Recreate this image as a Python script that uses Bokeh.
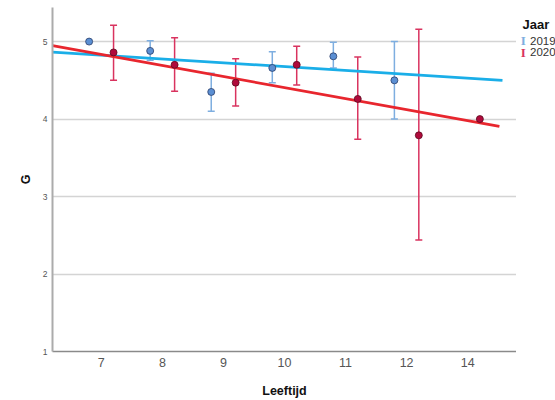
from bokeh.plotting import figure
from bokeh.layouts import row
from bokeh.models import Range1d, FixedTicker, Whisker, TeeHead, ColumnDataSource
from bokeh.core.properties import value
from bokeh.embed import file_html
from bokeh.resources import INLINE

# ---- data ----
ages = ["7", "8", "9", "10", "11", "12", "14"]
years = ["2019", "2020"]
legend_title = "Jaar"

mean_2019 = [5.00, 4.88, 4.35, 4.66, 4.81, 4.50, None]
lower_2019 = [None, 4.76, 4.10, 4.47, 4.66, 4.00, None]
upper_2019 = [None, 5.01, 4.59, 4.87, 4.99, 5.00, None]

mean_2020 = [4.86, 4.70, 4.47, 4.70, 4.26, 3.79, 4.00]
lower_2020 = [4.50, 4.36, 4.17, 4.44, 3.74, 2.44, None]
upper_2020 = [5.21, 5.05, 4.78, 4.94, 4.80, 5.16, None]

# fitted regression lines (start / end, in category-position units)
fit_x_2019 = [-0.8, 6.57]
fit_y_2019 = [4.865, 4.50]
fit_x_2020 = [-0.8, 6.52]
fit_y_2020 = [4.948, 3.905]

y_ticks = [1, 2, 3, 4, 5]

# ---- styling ----
FONT = "Liberation Sans"
C19_PT, C19_OUT, C19_ERR, C19_LINE = "#5b8fd3", "#2b3f6b", "#7eaee0", "#1aaee8"
C20_PT, C20_OUT, C20_ERR, C20_LINE = "#b00a3c", "#5a0a1e", "#d9335f", "#e8262e"
OFFSETS = {"2019": -0.2, "2020": 0.2}

p = figure(width=516, height=400, x_range=Range1d(-0.8, 6.8), y_range=Range1d(1, 5.44),
           output_backend="svg", toolbar_location=None,
           min_border_left=52, min_border_right=0, min_border_top=7, min_border_bottom=48)
p.outline_line_color = None
p.background_fill_color = "white"
p.border_fill_color = "white"

p.xgrid.visible = False
p.ygrid.ticker = FixedTicker(ticks=y_ticks)
p.ygrid.grid_line_color = "#d4d4d4"
p.ygrid.grid_line_width = 1.3

p.xaxis.ticker = FixedTicker(ticks=list(range(len(ages))))
p.xaxis.major_label_overrides = {i: a for i, a in enumerate(ages)}
p.yaxis.ticker = FixedTicker(ticks=y_ticks)
for ax in (p.xaxis[0], p.yaxis[0]):
    ax.major_tick_out = 0
    ax.major_tick_in = 0
    ax.minor_tick_out = 0
    ax.minor_tick_in = 0
    ax.major_label_text_font = FONT
    ax.major_label_text_color = "#555555"
    ax.axis_label_text_font = FONT
    ax.axis_label_text_font_style = "bold"
    ax.axis_label_text_color = "#111111"
    ax.axis_label_text_font_size = "12.5px"

p.xaxis.major_label_text_font_size = "12.5px"
p.yaxis.major_label_text_font_size = "8.5px"
p.xaxis.major_label_standoff = 6
p.yaxis.major_label_standoff = 5
p.xaxis.axis_label = "Leeftijd"
p.yaxis.axis_label = "G"
p.xaxis.axis_label_standoff = 14
p.yaxis.axis_label_standoff = 7
p.yaxis.axis_line_color = "#ababab"
p.yaxis.axis_line_width = 2
p.xaxis.axis_line_color = "#8a8a8a"
p.xaxis.axis_line_width = 1.5


def series(means, lows, ups, year):
    off = OFFSETS[year]
    px, py = [], []
    ex, el, eu = [], [], []
    for i, (m, lo, up) in enumerate(zip(means, lows, ups)):
        if m is not None:
            px.append(i + off)
            py.append(m)
        if lo is not None and up is not None:
            ex.append(i + off)
            el.append(lo)
            eu.append(up)
    return (ColumnDataSource(dict(x=px, y=py)),
            ColumnDataSource(dict(x=ex, lower=el, upper=eu)))


pts19, err19 = series(mean_2019, lower_2019, upper_2019, "2019")
pts20, err20 = series(mean_2020, lower_2020, upper_2020, "2020")

for src, col in ((err19, C19_ERR), (err20, C20_ERR)):
    w = Whisker(base="x", lower="lower", upper="upper", source=src, dimension="height",
                line_color=col, line_width=1.5,
                lower_head=TeeHead(size=7, line_color=col, line_width=1.5),
                upper_head=TeeHead(size=7, line_color=col, line_width=1.5))
    p.add_layout(w)

p.line(fit_x_2019, fit_y_2019, line_color=C19_LINE, line_width=2.8)
p.line(fit_x_2020, fit_y_2020, line_color=C20_LINE, line_width=2.8)

p.scatter("x", "y", source=pts19, size=7, fill_color=C19_PT, line_color=C19_OUT, line_width=0.8)
p.scatter("x", "y", source=pts20, size=7, fill_color=C20_PT, line_color=C20_OUT, line_width=0.8)

# ---- legend panel on the right (pixel coordinates of the panel) ----
lg = figure(width=39, height=400, x_range=Range1d(0, 39), y_range=Range1d(400, 0),
            output_backend="svg", toolbar_location=None,
            min_border_left=0, min_border_right=0, min_border_top=0, min_border_bottom=0)
lg.axis.visible = False
lg.grid.visible = False
lg.outline_line_color = None
lg.background_fill_color = "white"
lg.border_fill_color = "white"

lg.text(x=[6], y=[19.5], text=[legend_title], text_font=value(FONT), text_font_size="13px",
        text_font_style="bold", text_color="#111111", text_baseline="middle", text_align="left")
icon_cols = [C19_ERR, C20_ERR]
item_y = [38.8, 52.2]
lg.text(x=[4.3, 4.3], y=item_y, text=["I", "I"], text_font=value("Liberation Serif"),
        text_font_size="13px", text_font_style="bold", text_color=icon_cols,
        text_baseline="middle", text_align="left")
lg.text(x=[13.5, 13.5], y=item_y, text=years, text_font=value(FONT), text_font_size="11.5px",
        text_color="#333333", text_baseline="middle", text_align="left")

layout = row(p, lg, spacing=0)
open("out.html", "w").write(file_html(layout, INLINE))
